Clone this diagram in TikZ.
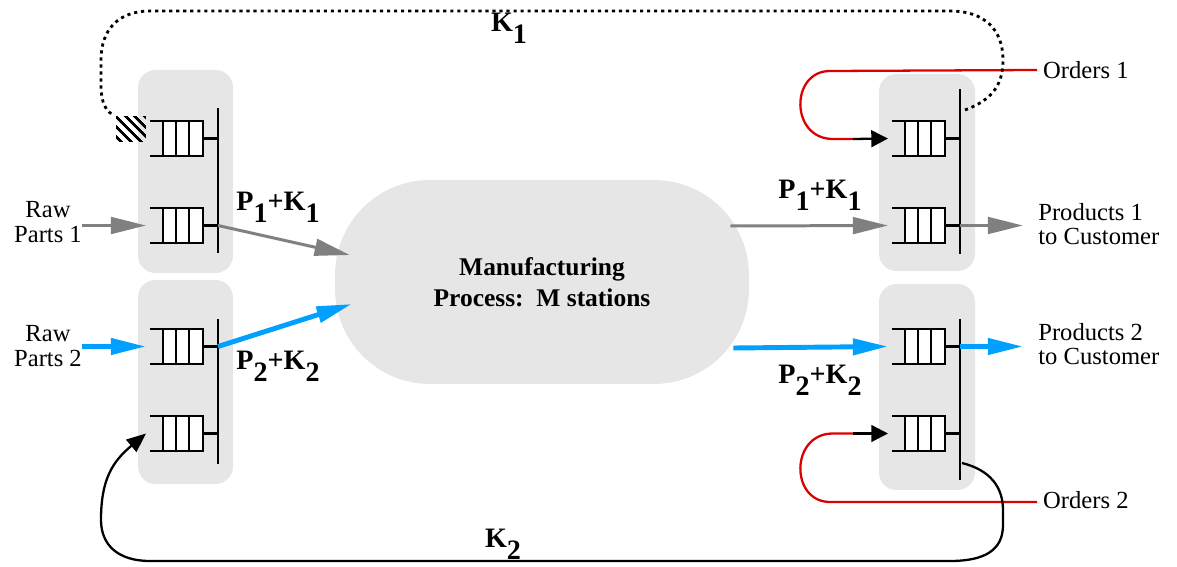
\documentclass[tikz,border=0pt]{standalone}
\usepackage{fontspec}
\setmainfont{Liberation Serif}
\usetikzlibrary{arrows.meta,patterns.meta}

\definecolor{partgray}{RGB}{128,128,128}
\definecolor{partblue}{RGB}{0,160,255}
\definecolor{ordred}{RGB}{220,0,0}
\definecolor{boxgray}{RGB}{230,230,230}

\newcommand{\dn}[1]{\raisebox{-0.42em}{#1}}

\tikzset{
  station/.style={fill=boxgray, rounded corners=0.35cm},
  qline/.style={line width=1.4pt},
  bar/.style={line width=1.4pt},
  flowA/.style={draw=partgray, line width=1.7pt, -{Triangle[length=20pt,width=9.5pt]}},
  flowB/.style={draw=partblue, line width=2.8pt, -{Triangle[length=20pt,width=9pt]}},
  txt/.style={font=\fontsize{14}{14}\selectfont, align=center},
  lbl/.style={font=\fontsize{16}{16}\selectfont\bfseries, inner sep=0pt},
  queue/.pic={
    \fill[white] (13,-17.5) rectangle (53,17.5);
    \draw[qline] (0,-17.5) -- (53,-17.5) -- (53,17.5) -- (0,17.5);
    \foreach \x in {13,26,39} \draw[qline] (\x,-17.5) -- (\x,17.5);
    \draw[qline] (53,0) -- (68,0);
    \coordinate (-in) at (-4,0);
    \coordinate (-out) at (68,0);
  },
}

\begin{document}
\begin{tikzpicture}[x=0.02cm, y=-0.02cm]
  \useasboundingbox (0,0) rectangle (1177,567);

  % stations
  \fill[station] (138,70) rectangle (233,273);
  \fill[station] (138,280) rectangle (233,484);
  \fill[station] (879,74) rectangle (975,271);
  \fill[station] (879,284) rectangle (975,490);

  \node (mfg) [fill=boxgray, rounded corners=1.9cm, minimum width=8.28cm,
    minimum height=4.08cm, align=center,
    font=\fontsize{14.5}{17.6}\selectfont\bfseries] at (542,282)
    {Manufacturing\\Process:\ \ M stations};

  % queues
  \pic (L1) at (150,138.5) {queue};
  \pic (L2) at (150,225.5) {queue};
  \pic (L3) at (150,346.5) {queue};
  \pic (L4) at (150,433.5) {queue};
  \pic (R1) at (892,138.5) {queue};
  \pic (R2) at (892,225.5) {queue};
  \pic (R3) at (892,346.5) {queue};
  \pic (R4) at (892,433.5) {queue};

  \draw[bar] (218,108) -- (218,253);
  \draw[bar] (218,319) -- (218,464);
  \draw[bar] (960,89) -- (960,254);
  \draw[bar] (960,319) -- (960,480);

  % texts
  \node (raw1) [txt, inner sep=0pt] at (48,222) {Raw\\Parts 1};
  \node (raw2) [txt, inner sep=0pt] at (48,346) {Raw\\Parts 2};
  \node (prod1) [txt, align=left, anchor=west, inner sep=0pt] at (1038,224) {Products 1\\to Customer};
  \node (prod2) [txt, align=left, anchor=west, inner sep=0pt] at (1038,344) {Products 2\\to Customer};
  \node (ord1) [txt, anchor=west] at (1037,70) {Orders 1};
  \node (ord2) [txt, anchor=west] at (1037,500) {Orders 2};

  \node (pk1l) [lbl] at (278,207) {P\dn{1}+K\dn{1}};
  \node (pk2l) [lbl] at (278,366) {P\dn{2}+K\dn{2}};
  \node (pk1r) [lbl] at (820,195) {P\dn{1}+K\dn{1}};
  \node (pk2r) [lbl] at (820,380) {P\dn{2}+K\dn{2}};
  \node (k1) [lbl] at (509,28) {K\dn{1}};
  \node (k2) [lbl] at (503,544) {K\dn{2}};

  % part flows
  \coordinate (m-in1) at ([shift={(15,-27)}]mfg.west);
  \coordinate (m-in2) at ([shift={(17,22)}]mfg.west);
  \coordinate (m-out1) at ([shift={(-19,-56)}]mfg.east);
  \coordinate (m-out2) at ([shift={(-16,66)}]mfg.east);
  \coordinate (p1tip) at (1023,225.5);
  \coordinate (p2tip) at (1023,346.5);

  \draw[flowA] (raw1.east |- L2-in) -- (L2-in);
  \draw[flowA] (L2-out) -- (m-in1);
  \draw[flowA] (m-out1) -- (R2-in);
  \draw[flowA] (R2-out) -- (p1tip);
  \draw[flowB] (raw2.east |- L3-in) -- (L3-in);
  \draw[flowB] (L3-out) -- (m-in2);
  \draw[flowB] (m-out2) -- (R3-in);
  \draw[flowB] (R3-out) -- (p2tip);

  % orders
  \coordinate (o1) at (853,139);
  \coordinate (o2) at (853,433.5);
  \draw[ordred, line width=1.3pt] (ord1.west) -- (830,71)
    .. controls (790,71) and (790,139) .. (833,139) -- (o1);
  \draw[line width=1.3pt, -{Triangle[length=9.5pt,width=9.5pt]}] (o1) -- (R1-in);
  \draw[ordred, line width=1.3pt] (ord2.west |- 0,502) -- (830,502)
    .. controls (790,502) and (790,433.5) .. (833,433.5) -- (o2);
  \draw[line width=1.3pt, -{Triangle[length=9.5pt,width=9.5pt]}] (o2) -- (R4-in);

  % kanban loops
  \node (hatch) [pattern={Lines[angle=-45,distance=4pt,line width=1.6pt]},
    minimum width=0.6cm, minimum height=0.5cm, inner sep=0pt] at (131,129.5) {};
  \coordinate (k1s) at (965,110);
  \coordinate (k2s) at (962,463);
  \draw[line width=1.6pt, dash pattern=on 1.8pt off 2.2pt] (k1s)
    .. controls (992,100) and (1003,85) .. (1003,60)
    .. controls (1003,30) and (985,11) .. (950,11) -- (150,11)
    .. controls (118,11) and (101,30) .. (101,60) -- (101,85)
    .. controls (101,103) and (106,112) .. (hatch.north west);
  \draw[line width=1.3pt, -{Triangle[length=11pt,width=9pt]}] (k2s)
    .. controls (990,470) and (1003,487) .. (1003,510) -- (1003,525)
    .. controls (1003,550) and (985,561) .. (950,561) -- (150,561)
    .. controls (118,561) and (101,545) .. (101,520)
    .. controls (101,480) and (112,462) .. (L4-in);
\end{tikzpicture}
\end{document}
